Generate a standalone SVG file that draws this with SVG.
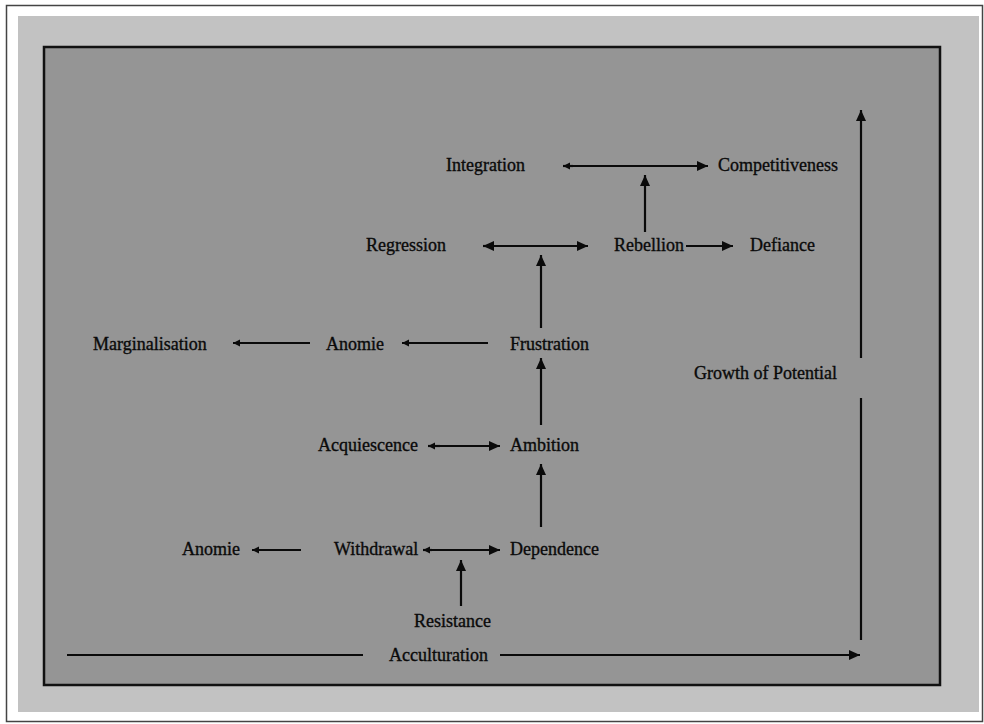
<svg xmlns="http://www.w3.org/2000/svg" width="984" height="724" viewBox="0 0 984 724">
<style>
text{font-family:"Liberation Serif","Times New Roman",serif;font-size:18px;fill:#0a0a0a;stroke:#0a0a0a;stroke-width:0.35;}
.c line{stroke:#0a0a0a;stroke-width:2.2;fill:none;}
</style>
<defs>
<marker id="big" markerUnits="userSpaceOnUse" markerWidth="12" markerHeight="10" refX="11" refY="5" orient="auto"><path d="M0,0 L11,5 L0,10 Z" fill="#0a0a0a"/></marker>
<marker id="sm" markerUnits="userSpaceOnUse" markerWidth="8" markerHeight="8" refX="7" refY="4" orient="auto"><path d="M0,0.5 L7,4 L0,7.5 Z" fill="#0a0a0a"/></marker>
</defs>
<rect x="0" y="0" width="984" height="724" fill="#fff"/>
<rect x="6.5" y="5.5" width="976" height="716" fill="#fff" stroke="#444" stroke-width="1.5"/>
<rect x="18" y="16" width="961" height="696" fill="#c2c2c2"/>
<rect x="44" y="47" width="896" height="638" fill="#959595" stroke="#111" stroke-width="2.5"/>
<g class="c" id="connectors">
<line x1="573" y1="166" x2="563" y2="166" marker-end="url(#sm)"/>
<line x1="565" y1="166" x2="708" y2="166" marker-end="url(#big)"/>
<line x1="645" y1="232" x2="645" y2="175" marker-end="url(#big)"/>
<line x1="490" y1="246" x2="483" y2="246" marker-end="url(#big)"/>
<line x1="485" y1="246" x2="588" y2="246" marker-end="url(#big)"/>
<line x1="686" y1="246" x2="733" y2="246" marker-end="url(#big)"/>
<line x1="541" y1="328" x2="541" y2="255" marker-end="url(#big)"/>
<line x1="488" y1="343" x2="402" y2="343" marker-end="url(#sm)"/>
<line x1="310" y1="343" x2="233" y2="343" marker-end="url(#sm)"/>
<line x1="541" y1="425" x2="541" y2="358" marker-end="url(#big)"/>
<line x1="440" y1="446" x2="428" y2="446" marker-end="url(#sm)"/>
<line x1="430" y1="446" x2="500" y2="446" marker-end="url(#big)"/>
<line x1="541" y1="527" x2="541" y2="464" marker-end="url(#big)"/>
<line x1="301" y1="550" x2="252" y2="550" marker-end="url(#sm)"/>
<line x1="432" y1="550" x2="423" y2="550" marker-end="url(#sm)"/>
<line x1="425" y1="550" x2="500" y2="550" marker-end="url(#big)"/>
<line x1="461" y1="606" x2="461" y2="560" marker-end="url(#big)"/>
<line x1="67" y1="655" x2="363" y2="655"/>
<line x1="500" y1="655" x2="860" y2="655" marker-end="url(#big)"/>
<line x1="861" y1="640" x2="861" y2="398"/>
<line x1="861" y1="358" x2="861" y2="110" marker-end="url(#big)"/>
</g>
<g id="n-integration"><text x="446" y="171">Integration</text></g>
<g id="n-competitiveness"><text x="718" y="171">Competitiveness</text></g>
<g id="n-regression"><text x="366" y="251">Regression</text></g>
<g id="n-rebellion"><text x="614" y="251">Rebellion</text></g>
<g id="n-defiance"><text x="750" y="251">Defiance</text></g>
<g id="n-marginalisation"><text x="93" y="350">Marginalisation</text></g>
<g id="n-anomie1"><text x="326" y="350">Anomie</text></g>
<g id="n-frustration"><text x="510" y="350">Frustration</text></g>
<g id="n-growth"><text x="694" y="379">Growth of Potential</text></g>
<g id="n-acquiescence"><text x="318" y="451">Acquiescence</text></g>
<g id="n-ambition"><text x="510" y="451">Ambition</text></g>
<g id="n-anomie2"><text x="182" y="555">Anomie</text></g>
<g id="n-withdrawal"><text x="334" y="555">Withdrawal</text></g>
<g id="n-dependence"><text x="510" y="555">Dependence</text></g>
<g id="n-resistance"><text x="414" y="627">Resistance</text></g>
<g id="n-acculturation"><text x="389" y="661">Acculturation</text></g>
</svg>
